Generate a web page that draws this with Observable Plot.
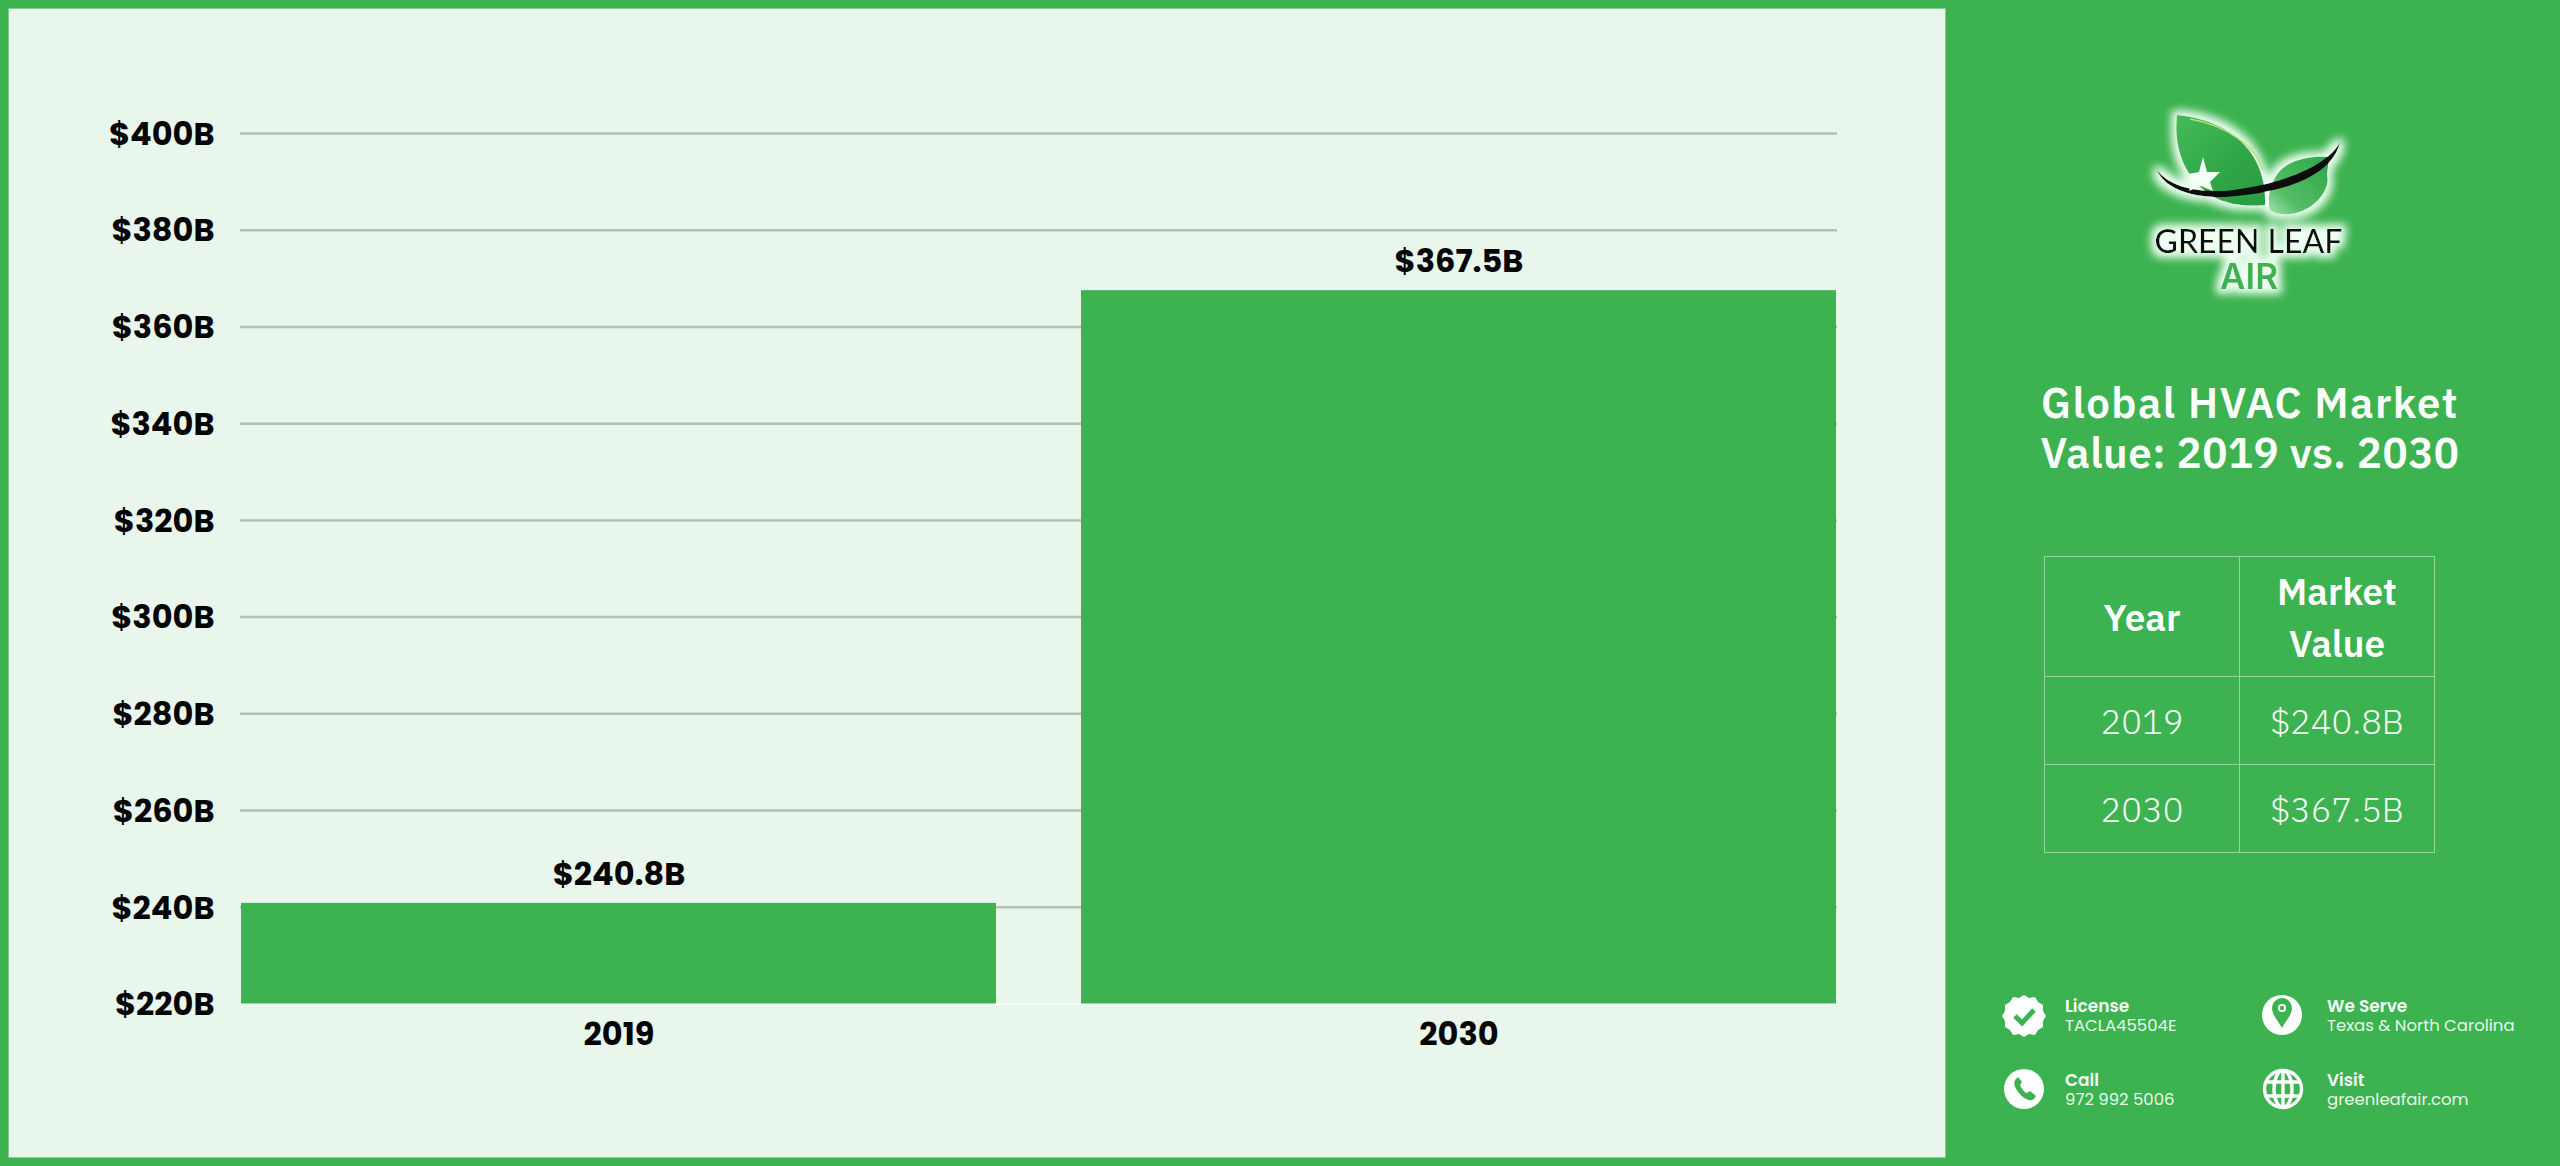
<!DOCTYPE html>
<html>
<head>
<meta charset="utf-8">
<script src="https://cdn.jsdelivr.net/npm/d3@7"></script>
<script src="https://cdn.jsdelivr.net/npm/@observablehq/plot@0.6"></script>
<style>
html,body{margin:0;padding:0;width:2560px;height:1166px;overflow:hidden;background:#3cb250;}
#panel{position:absolute;left:9px;top:9px;width:1936px;height:1148px;background:#e9f6ec;box-shadow:0 0 0 1px #7fd08f;}
#chart{position:absolute;left:0;top:0;}
#art{position:absolute;left:0;top:0;}
.abs{position:absolute;color:#fff;white-space:nowrap;}
#title{left:1990px;width:520px;top:378px;text-align:center;font:600 42px/50px "IBM Plex Sans","Noto Sans",sans-serif;color:#fbfffb;}
#title .l0{letter-spacing:1.45px;}
#title .l1{letter-spacing:0.5px;}
#tbl{position:absolute;left:2044px;top:556px;width:391px;height:297px;border-collapse:collapse;table-layout:fixed;color:#f2fbf3;font-family:"IBM Plex Sans","Noto Sans",sans-serif;}
#tbl td,#tbl th{border:1.5px solid #93d7a0;padding:0;text-align:center;}
#tbl th{font-weight:600;font-size:37px;line-height:52px;color:#fff;}
#tbl td{font-weight:300;font-size:34.5px;}
.lab{font:600 17px/20px Poppins,"Open Sans",sans-serif;color:#f7fdf8;}
.val{font:400 16.5px/20px Poppins,"Open Sans",sans-serif;color:#e9f8ec;}
</style>
</head>
<body>
<div id="panel"></div>
<div id="chart"></div>
<svg id="art" width="2560" height="1166" viewBox="0 0 2560 1166" xmlns="http://www.w3.org/2000/svg">
  <defs>
    <filter id="glow" x="-30%" y="-30%" width="160%" height="160%">
      <feMorphology in="SourceAlpha" operator="dilate" radius="5" result="d"/>
      <feGaussianBlur in="d" stdDeviation="4.5" result="b"/>
      <feFlood flood-color="#eefff1"/>
      <feComposite in2="b" operator="in" result="g"/>
      <feMerge><feMergeNode in="g"/><feMergeNode in="SourceGraphic"/></feMerge>
    </filter>
    <linearGradient id="lg1" x1="0" y1="0" x2="1" y2="1">
      <stop offset="0" stop-color="#45bb58"/><stop offset="0.6" stop-color="#2fa547"/><stop offset="1" stop-color="#2a9c42"/>
    </linearGradient>
    <linearGradient id="lg2" x1="1" y1="0" x2="0" y2="1">
      <stop offset="0" stop-color="#2fa547"/><stop offset="0.7" stop-color="#55bd67"/><stop offset="1" stop-color="#a6e0ae"/>
    </linearGradient>
  </defs>
  <g filter="url(#glow)">
    <path d="M2177 115 C2228 120 2267 150 2265 205 C2245 207 2226 204 2212 196 C2186 180 2173 150 2177 115Z" fill="url(#lg1)"/>
    <path d="M2329 157 C2300 155 2280 165 2274 180 C2268 192 2268 203 2270 210 C2278 216 2295 216 2308 208 C2322 200 2330 185 2327 175Z" fill="url(#lg2)"/>
    <path d="M2157 170 C2166 192 2200 198 2225 197 C2278 194 2332 178 2340 142 C2325 170 2272 186 2225 191 C2195 192 2170 187 2157 170Z" fill="#0b0b0b"/>
    <text x="2248.5" y="253" text-anchor="middle" font-family="Lato,Inter,sans-serif" font-weight="500" font-size="32" fill="#111">GREEN LEAF</text>
    <text x="2249" y="289" text-anchor="middle" font-family="Inter,sans-serif" font-weight="600" font-size="35" fill="#3cb250">AIR</text>
  </g>
  <path d="M2190 119 C2225 125 2255 145 2263 170" fill="none" stroke="#b7e27a" stroke-width="1.5"/>
  <path d="M2203 157 L2207 172 L2220 172 L2210 182 L2213 191 L2201 186 L2189 191 L2193 180 L2188 174 L2199 172Z" fill="#f6fff7"/>
  <!-- footer icons -->
  <g fill="#fff">
    <path d="M2024 995 l5 3 6 -1 3 5 5 3 0 6 3 5 -3 5 0 6 -5 3 -3 5 -6 -1 -5 3 -5 -3 -6 1 -3 -5 -5 -3 0 -6 -3 -5 3 -5 0 -6 5 -3 3 -5 6 1Z"/>
    <path d="M2015 1016 l7 7 12 -13" fill="none" stroke="#3cb250" stroke-width="5"/>
    <circle cx="2282" cy="1015" r="20"/>
    <circle cx="2024" cy="1089" r="20"/>
    <path d="M2016 1079 c-3 3 -2 8 3 14 c5 6 11 9 15 6 l2 -3 -6 -5 -3 2 c-2 0 -6 -5 -7 -8 l2 -3 -4 -5Z" fill="#3cb250"/>
    <path d="M2282 1028 c-3 -6 -10 -13 -10 -20 a10 10 0 0 1 20 0 c0 7 -7 14 -10 20Z" fill="#3cb250"/>
    <circle cx="2282" cy="1008" r="4"/>
    <circle cx="2282" cy="1008" r="2.2" fill="#3cb250"/>
  </g>
  <g fill="none" stroke="#fff" stroke-width="3.4">
    <circle cx="2283" cy="1089" r="18.5"/>
    <ellipse cx="2283" cy="1089" rx="9" ry="18.5"/>
    <path d="M2283 1070 v38 M2265 1082 h36 M2265 1096 h36"/>
  </g>
</svg>
<div id="side"></div>
<script>
const years = ["2019", "2030"];
const marketValues = [240.8, 367.5];
const yTicks = [220, 240, 260, 280, 300, 320, 340, 360, 380, 400];
const titleLines = ["Global HVAC Market", "Value: 2019 vs. 2030"];
const tableHead = ["Year", "Market<br>Value"];
const footerLabels = ["License", "We Serve", "Call", "Visit"];
const footerValues = ["TACLA45504E", "Texas & North Carolina", "972 992 5006", "greenleafair.com"];
const footerLeft = [2065, 2327, 2065, 2327];
const footerTop = [996, 996, 1070, 1070];

const money = v => `$${v}B`;
const rows = years.map((year, i) => ({year, value: marketValues[i]}));
const green = "#3cb250";

const chart = Plot.plot({
  width: 1945,
  height: 1166,
  marginLeft: 240,
  marginRight: 108,
  marginTop: 133,
  marginBottom: 162.5,
  style: {background: "transparent", fontFamily: "Poppins, Inter, sans-serif", fontSize: "32px", fontWeight: 700, color: "#050505"},
  x: {domain: years, paddingInner: 0.101, paddingOuter: 0, align: 0.5, axis: null},
  y: {domain: [220, 400], axis: null},
  marks: [
    Plot.ruleY(yTicks.slice(1), {stroke: "#b1bfb5", strokeWidth: 2.5}),
    Plot.ruleY([yTicks[0]], {stroke: "#f7fbf8", strokeWidth: 2}),
    Plot.barY(rows, {x: "year", y1: yTicks[0], y2: "value", fill: green}),
    Plot.text(rows, {x: "year", y: "value", text: d => money(d.value), dy: -29, fill: "#050505"}),
    Plot.axisY(yTicks, {tickSize: 0, tickPadding: 26, tickFormat: money, label: null, fill: "#050505", dy: 1}),
    Plot.axisX(years, {tickSize: 0, tickPadding: 18, label: null, fill: "#050505"})
  ]
});
document.getElementById("chart").append(chart);

const side = document.getElementById("side");
side.insertAdjacentHTML("beforeend", `<div class="abs" id="title">${titleLines.map((t, i) => `<span class="l${i}">${t}</span>`).join("<br>")}</div>`);
side.insertAdjacentHTML("beforeend",
  `<table id="tbl"><tr style="height:120px"><th>${tableHead[0]}</th><th>${tableHead[1]}</th></tr>` +
  rows.map(r => `<tr style="height:88px"><td>${r.year}</td><td>${money(r.value)}</td></tr>`).join("") +
  `</table>`);
footerLabels.forEach((label, i) => {
  side.insertAdjacentHTML("beforeend",
    `<div class="abs" style="left:${footerLeft[i]}px;top:${footerTop[i]}px"><div class="lab">${label}</div><div class="val">${footerValues[i].replace("&", "&amp;")}</div></div>`);
});
</script>
</body>
</html>
